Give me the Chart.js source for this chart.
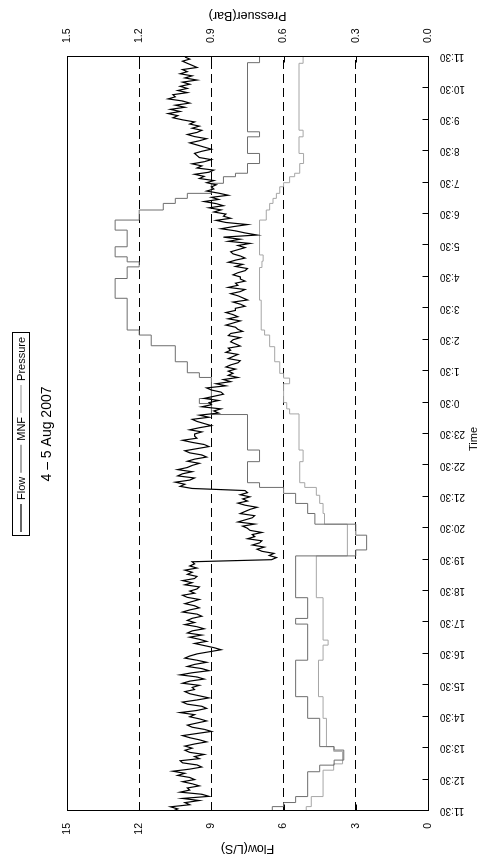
<!DOCTYPE html>
<html>
<head>
<meta charset="utf-8">
<script src="https://cdn.jsdelivr.net/npm/chart.js@4"></script>
<style>
  html, body { margin: 0; padding: 0; background: #fff; overflow: hidden; width: 483px; height: 863px; }
  /* the chart is laid out landscape and turned a quarter turn to stand upright in the page */
  #wrap { position: absolute; left: 0; top: 0; width: 863px; height: 483px;
          transform-origin: 0 0; transform: translate(0, 863px) rotate(-90deg); }
</style>
</head>
<body>
<div id="wrap"><canvas id="c" width="863" height="483"></canvas></div>
<script>
// ---- data -------------------------------------------------------------
const chartTitle = '4 \u2013 5 Aug 2007';
const seriesNames = ['Flow', 'MNF', 'Pressure'];

// time axis: hours since 11:30 on 4 Aug, one tick per hour
const timeTicks = [0,1,2,3,4,5,6,7,8,9,10,11,12,13,14,15,16,17,18,19,20,21,22,23,24];
const flowTicks = [0, 3, 6, 9, 12, 15];
const pressureTicks = [0, 0.3, 0.6, 0.9, 1.2, 1.5];

// flow (L/S), logged every 4 minutes from 11:30
const flowStepHours = 1 / 15;
const flowValues = [
  10.6,10.4,10.7,9.9,10.1,9.5,10.2,9.1,9.4,10.3,9.9,10.0,9.5,9.8,10.2,
  9.7,9.9,10.4,10.1,10.6,9.9,9.4,9.6,10.2,10.3,9.5,9.7,9.3,9.9,10.1,
  9.8,10.1,9.7,9.2,9.5,9.9,10.2,9.6,9.0,9.3,9.8,10.0,9.6,9.2,9.5,
  9.9,9.7,10.3,9.6,9.2,9.4,10.0,10.2,9.6,9.1,9.5,9.9,10.1,9.7,9.8,
  9.5,10.2,9.9,9.3,9.6,10.3,9.8,9.1,9.4,10.0,9.7,9.2,9.6,10.1,9.9,
  9.6,9.1,8.6,8.9,9.3,9.7,9.2,9.5,9.9,9.4,10.0,9.8,9.3,9.6,10.1,
  9.7,10.0,9.8,9.4,9.6,10.2,9.9,9.5,9.7,10.1,9.8,9.5,10.0,10.2,9.7,
  9.9,9.6,9.5,10.1,9.8,10.2,9.7,9.6,10.0,9.8,10.1,9.6,9.9,9.7,9.8,
  6.5,6.3,6.6,6.4,6.9,7.1,6.8,7.3,7.0,6.9,7.5,7.2,7.3,6.9,7.4,
  7.5,7.7,7.2,7.9,7.6,7.3,7.2,7.8,7.6,7.4,7.1,7.6,7.9,7.5,7.7,
  7.4,7.8,7.5,7.6,9.8,10.3,10.1,10.5,9.9,9.7,10.4,10.2,9.8,10.4,10.0,
  9.8,9.5,10.0,9.7,9.2,9.4,9.9,10.1,9.6,9.1,9.3,9.8,10.2,9.6,9.7,
  9.7,9.4,9.9,9.5,9.0,9.3,9.6,9.8,9.1,9.5,8.7,8.9,8.6,9.4,9.0,
  9.1,8.7,9.3,8.9,8.5,8.6,9.0,9.2,8.4,8.8,8.2,8.5,7.9,8.3,8.1,
  8.3,8.0,8.4,8.2,7.9,7.8,8.3,8.1,7.9,8.4,8.2,8.3,7.8,8.0,8.2,
  8.1,7.8,8.3,8.2,7.7,7.9,8.0,8.4,8.1,7.8,8.3,7.9,8.1,8.4,8.0,
  8.0,7.6,7.8,8.1,7.5,7.7,7.9,8.2,7.8,7.6,8.3,7.9,8.0,7.6,7.8,
  7.8,8.1,7.9,7.6,7.5,8.0,7.7,8.3,8.0,7.6,7.8,8.1,8.2,7.9,7.6,
  7.9,7.4,8.3,7.8,8.5,7.1,7.6,8.0,8.6,8.1,7.5,8.4,8.8,8.2,8.5,
  8.4,8.9,8.6,9.1,8.5,8.8,9.3,8.7,9.0,8.3,8.7,9.2,8.9,9.0,8.8,
  9.2,8.9,9.5,9.3,9.7,9.1,8.9,9.6,9.4,9.8,9.3,9.0,9.5,9.6,9.7,
  9.4,9.0,9.3,9.6,9.9,9.5,9.2,9.7,10.0,9.6,9.4,9.8,9.5,9.9,9.7,
  10.2,10.6,10.4,10.8,10.3,10.7,10.1,10.5,9.9,10.2,10.8,10.5,10.6,10.0,10.4,
  10.0,10.3,9.9,10.2,9.6,10.1,9.8,10.3,10.0,10.2,9.6,9.8,10.0,10.2,9.9,10.1
];

// MNF (L/S) as [hours since 11:30, value held until the next change]
const mnfSteps = [
  [0,6.47],[0.14,6.0],[0.27,5.5],[0.46,5.0],[1.25,4.5],[1.46,3.9],[1.62,3.5],[1.94,3.9],
  [2.05,4.5],[2.95,5.0],[3.64,5.5],[4.8,5.0],[5.95,5.5],[6.13,5.0],[6.79,5.5],[8.12,3.0],
  [8.31,2.55],[8.78,3.0],[9.13,4.7],[9.47,5.0],[9.79,5.5],[10.11,6.0],[10.3,7.0],[10.45,7.5],
  [11.12,7.0],[11.49,7.5],[12.62,9.0],[12.97,9.5],[13.13,9.0],[13.8,9.5],[13.95,10.0],[14.3,10.5],
  [14.81,11.5],[15.15,12.0],[15.31,12.5],[16.32,13.0],[16.95,12.5],[17.32,12.0],[17.48,12.5],
  [17.64,13.0],[17.96,12.5],[18.49,13.0],[18.81,12.0],[19.13,11.0],[19.34,10.5],[19.5,10.0],
  [19.66,9.0],[19.98,8.5],[20.19,8.0],[20.3,7.5],[20.61,7.0],[20.93,7.5],[21.46,7.0],[21.62,7.5],
  [23.82,7.0],[24,7.0]
];

// pressure (Bar) as [hours since 11:30, value held until the next change]
const pressureSteps = [
  [0,0.506],[0.14,0.485],[0.46,0.436],[1.3,0.392],[1.5,0.355],[1.9,0.392],[2.05,0.422],
  [2.95,0.436],[3.64,0.455],[4.8,0.436],[5.28,0.415],[5.44,0.436],[6.79,0.464],[8.12,0.335],
  [9.13,0.43],[9.47,0.436],[9.79,0.45],[10.05,0.464],[10.3,0.512],[10.45,0.533],[11.12,0.519],
  [11.49,0.536],[12.64,0.575],[12.8,0.587],[13.0,0.6],[13.6,0.575],[13.78,0.6],[13.93,0.616],
  [14.3,0.637],[14.78,0.658],[15.15,0.679],[15.31,0.693],[16.26,0.70],[17.3,0.69],[17.5,0.685],
  [17.7,0.70],[18.81,0.672],[19.13,0.658],[19.34,0.644],[19.5,0.63],[19.66,0.616],[19.87,0.60],
  [20.0,0.575],[20.19,0.554],[20.3,0.533],[20.61,0.517],[20.93,0.536],[21.46,0.519],[21.67,0.536],
  [23.8,0.519],[24,0.519]
];

// ---- drawing ----------------------------------------------------------
const FONT = '"Liberation Sans", Arial, Helvetica, sans-serif';
const colors = ['#000000', '#6e6e6e', '#a6a6a6'];

const flowPoints = flowValues.map((v, i) => ({ x: i * flowStepHours, y: v }));
const mnfPoints = mnfSteps.map(([t, v]) => ({ x: t, y: v }));
const pressurePoints = pressureSteps.map(([t, v]) => ({ x: t, y: v }));

function clockLabel(h) { return ((11 + h) % 24) + ':30'; }

const framePlugin = {
  id: 'frame',
  afterDatasetsDraw(chart) {
    const { ctx, chartArea: a, scales } = chart;
    const L = Math.round(a.left) + 0.5, R = Math.round(a.right) + 0.5;
    const T = Math.round(a.top) + 0.5, B = Math.round(a.bottom) + 0.5;
    ctx.save();
    ctx.strokeStyle = '#000';
    ctx.lineWidth = 1;
    ctx.setLineDash([]);
    ctx.strokeRect(L, T, R - L, B - T);
    // short tick marks pointing into the plot
    const len = 6;
    ctx.beginPath();
    scales.x.ticks.forEach((t, i) => {
      const px = Math.round(scales.x.getPixelForTick(i)) + 0.5;
      ctx.moveTo(px, B); ctx.lineTo(px, B - len);
    });
    scales.y.ticks.forEach((t, i) => {
      const py = Math.round(scales.y.getPixelForTick(i)) + 0.5;
      ctx.moveTo(L, py); ctx.lineTo(L + len, py);
    });
    scales.y1.ticks.forEach((t, i) => {
      const py = Math.round(scales.y1.getPixelForTick(i)) + 0.5;
      ctx.moveTo(R, py); ctx.lineTo(R - len, py);
    });
    ctx.stroke();

    // axis titles
    ctx.fillStyle = '#000';
    ctx.font = '12.5px ' + FONT;
    ctx.textAlign = 'center';
    ctx.textBaseline = 'middle';
    const midY = (a.top + a.bottom) / 2;
    [[15, 'Flow(L/S)'], [848, 'Pressuer(Bar)']].forEach(([x, s]) => {
      ctx.save(); ctx.translate(x, midY); ctx.rotate(-Math.PI / 2); ctx.fillText(s, 0, 0); ctx.restore();
    });
    ctx.font = '11px ' + FONT;
    ctx.fillText('Time', (a.left + a.right) / 2 - 5, 474);

    // title
    ctx.font = '14px ' + FONT;
    ctx.fillText(chartTitle, (a.left + a.right) / 2, 47);

    // legend box
    ctx.font = '11px ' + FONT;
    ctx.textAlign = 'left';
    const lineLen = 28, gap = 4, itemGap = 4;
    const ds = chart.data.datasets;
    let total = 0;
    const widths = ds.map(d => ctx.measureText(d.label).width);
    widths.forEach(w => { total += lineLen + gap + w + itemGap; });
    total += 4;
    let x = Math.round((a.left + a.right) / 2 - total / 2);
    const boxTop = 12.5, boxH = 17, cy = boxTop + boxH / 2;
    ctx.strokeStyle = '#000';
    ctx.strokeRect(x + 0.5, boxTop, Math.round(total), boxH);
    x += 4;
    ds.forEach((d, i) => {
      ctx.strokeStyle = d.borderColor;
      ctx.lineWidth = 1.2;
      ctx.beginPath(); ctx.moveTo(x, cy); ctx.lineTo(x + lineLen, cy); ctx.stroke();
      x += lineLen + gap;
      ctx.fillStyle = '#000';
      ctx.fillText(d.label, x, cy + 0.5);
      x += widths[i] + itemGap;
    });
    ctx.restore();
  }
};

new Chart(document.getElementById('c'), {
  type: 'line',
  data: {
    datasets: [
      { label: seriesNames[0], data: flowPoints, yAxisID: 'y', borderColor: colors[0], borderWidth: 1.2,
        pointRadius: 0, tension: 0, fill: false },
      { label: seriesNames[1], data: mnfPoints, yAxisID: 'y', borderColor: colors[1], borderWidth: 1,
        pointRadius: 0, stepped: 'before', fill: false },
      { label: seriesNames[2], data: pressurePoints, yAxisID: 'y1', borderColor: colors[2], borderWidth: 1,
        pointRadius: 0, stepped: 'before', fill: false }
    ]
  },
  options: {
    responsive: false,
    animation: false,
    events: [],
    layout: { padding: { left: 0, right: 0, top: 67, bottom: 0 } },
    plugins: { legend: { display: false }, title: { display: false }, tooltip: { enabled: false } },
    scales: {
      x: {
        type: 'linear', position: 'bottom', min: 0, max: 24,
        afterBuildTicks: s => { s.ticks = timeTicks.map(v => ({ value: v })); },
        afterFit: s => { s.height = 55; },
        grid: { display: false, drawTicks: false },
        border: { display: false },
        ticks: { autoSkip: false, minRotation: 90, maxRotation: 90, padding: 12, color: '#000',
                 font: { family: FONT, size: 10 }, callback: v => clockLabel(v) }
      },
      y: {
        type: 'linear', position: 'left', min: 0, max: 15,
        afterBuildTicks: s => { s.ticks = flowTicks.map(v => ({ value: v })); },
        afterFit: s => { s.width = 52; },
        grid: { display: true, drawTicks: false, color: c => (c.tick && (c.tick.value === 0 || c.tick.value === 15)) ? 'rgba(0,0,0,0)' : '#000', lineWidth: 1 },
        border: { display: false, dash: [9, 5] },
        ticks: { padding: 12, color: '#000', font: { family: FONT, size: 10.5 } }
      },
      y1: {
        type: 'linear', position: 'right', min: 0, max: 1.5,
        afterBuildTicks: s => { s.ticks = pressureTicks.map(v => ({ value: v })); },
        afterFit: s => { s.width = 57; },
        grid: { display: false, drawTicks: false },
        border: { display: false },
        ticks: { padding: 14, color: '#000', font: { family: FONT, size: 10.5 }, callback: v => v.toFixed(1) }
      }
    }
  },
  plugins: [framePlugin]
});
</script>
</body>
</html>
